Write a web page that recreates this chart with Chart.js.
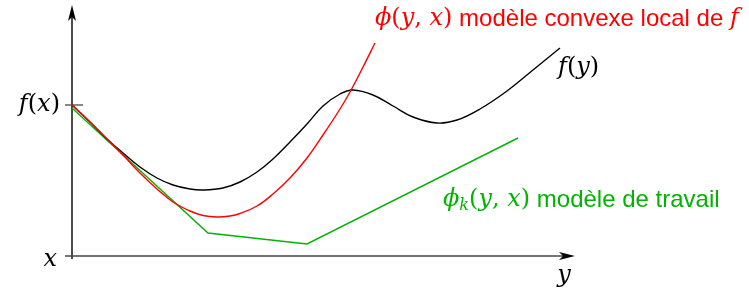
<!DOCTYPE html>
<html>
<head>
<meta charset="utf-8">
<script src="https://cdn.jsdelivr.net/npm/chart.js@4"></script>
<style>
  html, body { margin: 0; padding: 0; background: #fff; }
  #wrap { width: 749px; height: 288px; }
</style>
</head>
<body>
<div id="wrap"><canvas id="chart"></canvas></div>
<script>
// coordinates: origin where the two axes cross, y goes up
const fCurve = [
  [0, 151], [18, 134], [35, 117], [51, 103], [68, 89], [85, 78], [101, 71],
  [118, 67], [131, 66], [151, 68], [168, 74], [185, 84], [201, 97], [218, 114],
  [235, 132], [251, 150], [268, 162], [281, 166], [301, 161], [321, 150],
  [341, 139], [365, 133], [385, 136], [408, 147], [435, 165], [461, 186], [488, 208],
];
const phiCurve = [
  [0, 151], [18, 134], [35, 117], [51, 101], [68, 83], [85, 67], [101, 54],
  [118, 45], [131, 40.5], [145, 39], [158, 40], [168, 42.5], [185, 50], [201, 62],
  [218, 78], [235, 98], [251, 121], [268, 147], [278, 164], [290, 187], [303, 213],
];
const phiKCurve = [[0, 148], [136, 23], [235, 12], [446, 118]];

const fx = 151; // f(x) level on the vertical axis
const xAxisEnd = 503;
const yAxisEnd = 251;

const RED = "#ff0000";
const GREEN = "#00b400";
const MATH = "italic 24px 'DejaVu Serif'";
const MATH_UP = "24px 'DejaVu Serif'";
const SUB = "italic 16px 'DejaVu Serif'";
const SANS = "24px 'Liberation Sans'";

const toPts = (arr) => arr.map(([x, y]) => ({ x, y }));

// label runs: [text, font, dy]
const labels = [
  { x: -12, y: fx, align: "right", color: "#000", runs: [["f", MATH], ["(", MATH_UP], ["x", MATH], [")", MATH_UP]] },
  { x: -15, y: -4, align: "right", color: "#000", runs: [["x", MATH]] },
  { x: 492, y: -20, align: "center", color: "#000", runs: [["y", MATH]] },
  { x: 486, y: 188, align: "left", color: "#000", runs: [["f", MATH], ["(", MATH_UP], ["y", MATH], [")", MATH_UP]] },
  {
    x: 303, y: 237, align: "left", color: RED,
    runs: [["ϕ", MATH], ["(", MATH_UP], ["y", MATH], [", ", MATH_UP], ["x", MATH], [")", MATH_UP],
      [" modèle convexe local de ", SANS], ["f", MATH]],
  },
  {
    x: 371, y: 56, align: "left", color: GREEN,
    runs: [["ϕ", MATH], ["k", SUB, 6], ["(", MATH_UP], ["y", MATH], [", ", MATH_UP],
      ["x", MATH], [")", MATH_UP], [" modèle de travail", SANS]],
  },
];

function arrow(ctx, x, y, dir) {
  ctx.save();
  ctx.translate(x, y);
  ctx.rotate(dir);
  ctx.beginPath();
  ctx.moveTo(0, 0);
  ctx.lineTo(-16, -4);
  ctx.lineTo(-12, 0);
  ctx.lineTo(-16, 4);
  ctx.closePath();
  ctx.fill();
  ctx.restore();
}

const axesPlugin = {
  id: "axesPlugin",
  beforeDatasetsDraw(chart) {
    const ctx = chart.ctx;
    const sx = chart.scales.x, sy = chart.scales.y;
    const ox = sx.getPixelForValue(0), oy = sy.getPixelForValue(0);
    ctx.save();
    ctx.strokeStyle = "#000";
    ctx.fillStyle = "#000";
    ctx.lineWidth = 1.4;
    // vertical axis
    ctx.beginPath();
    ctx.moveTo(ox, sy.getPixelForValue(-3));
    ctx.lineTo(ox, sy.getPixelForValue(yAxisEnd) + 4);
    ctx.stroke();
    arrow(ctx, ox, sy.getPixelForValue(yAxisEnd), -Math.PI / 2);
    // horizontal axis
    ctx.strokeStyle = "#444";
    ctx.beginPath();
    ctx.moveTo(sx.getPixelForValue(-7), oy);
    ctx.lineTo(sx.getPixelForValue(xAxisEnd) - 4, oy);
    ctx.stroke();
    arrow(ctx, sx.getPixelForValue(xAxisEnd), oy, 0);
    // f(x) tick
    ctx.strokeStyle = "#555";
    ctx.beginPath();
    ctx.moveTo(sx.getPixelForValue(-7), sy.getPixelForValue(fx));
    ctx.lineTo(sx.getPixelForValue(11), sy.getPixelForValue(fx));
    ctx.stroke();
    ctx.restore();
  },
  afterDatasetsDraw(chart) {
    const ctx = chart.ctx;
    const sx = chart.scales.x, sy = chart.scales.y;
    ctx.save();
    ctx.textBaseline = "middle";
    ctx.textAlign = "left";
    labels.forEach((lb) => {
      let total = 0;
      lb.runs.forEach(([t, f]) => { ctx.font = f; total += ctx.measureText(t).width; });
      let px = sx.getPixelForValue(lb.x);
      if (lb.align === "right") px -= total;
      if (lb.align === "center") px -= total / 2;
      const py = sy.getPixelForValue(lb.y);
      ctx.fillStyle = lb.color;
      lb.runs.forEach(([t, f, dy]) => {
        ctx.font = f;
        ctx.fillText(t, px, py + (dy || 0));
        px += ctx.measureText(t).width;
      });
    });
    ctx.restore();
  },
};

const ctx = document.getElementById("chart").getContext("2d");
const chart = new Chart(ctx, {
  type: "scatter",
  data: {
    datasets: [
      {
        label: "phi(y,x)",
        data: toPts(phiCurve),
        showLine: true,
        borderColor: RED,
        borderWidth: 1.4,
        pointRadius: 0,
        tension: 0.4,
        order: 0,
      },
      {
        label: "f(y)",
        data: toPts(fCurve),
        showLine: true,
        borderColor: "#000",
        borderWidth: 1.4,
        pointRadius: 0,
        tension: 0.4,
        order: 1,
      },
      {
        label: "phi_k(y,x)",
        data: toPts(phiKCurve),
        showLine: true,
        borderColor: GREEN,
        borderWidth: 1.4,
        pointRadius: 0,
        tension: 0,
        order: 2,
      },
    ],
  },
  options: {
    responsive: true,
    maintainAspectRatio: false,
    animation: false,
    layout: { padding: 0 },
    plugins: {
      legend: { display: false },
      tooltip: { enabled: false },
    },
    scales: {
      x: { type: "linear", min: -72, max: 677, display: false },
      y: { type: "linear", min: -32, max: 256, display: false },
    },
  },
  plugins: [axesPlugin],
});
</script>
</body>
</html>
